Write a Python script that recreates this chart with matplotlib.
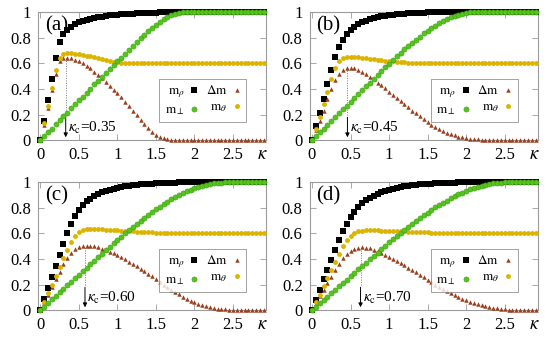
import numpy as np
import matplotlib.pyplot as plt

plt.rcParams['font.family'] = 'Liberation Serif'
plt.rcParams['mathtext.fontset'] = 'stix'

# kappa grid, step 0.05 from 0 to 2.9
kappa = np.arange(59) * 0.05

panel_labels = ['(a)', '(b)', '(c)', '(d)']
kappa_c_text = ['0.35', '0.45', '0.60', '0.70']
# where the arrow / dotted guide sits in each panel
arrow_x = [0.33, 0.46, 0.58, 0.63]

# ---- panel (a)
m_rho_a = [0.0, 0.15, 0.31, 0.48, 0.64, 0.77, 0.83, 0.86, 0.885, 0.905, 0.92, 0.93, 0.94, 0.95,
           0.955, 0.96, 0.965, 0.97, 0.975, 0.978, 0.98, 0.983, 0.986, 0.988, 0.99, 0.992, 0.993,
           0.994, 0.995, 0.996, 0.997, 0.998, 0.998, 0.999, 0.999] + [1.0] * 24
m_perp_a = [0.0, 0.03, 0.06, 0.09, 0.125, 0.155, 0.185, 0.215, 0.25, 0.28, 0.31, 0.34, 0.37, 0.40,
            0.435, 0.465, 0.495, 0.525, 0.555, 0.585, 0.615, 0.645, 0.675, 0.705, 0.735, 0.765,
            0.795, 0.825, 0.85, 0.875, 0.90, 0.925, 0.945, 0.963, 0.977, 0.987, 0.994, 0.998] + [1.0] * 21
dm_a = [0.0, 0.12, 0.25, 0.39, 0.515, 0.615, 0.645, 0.645, 0.64, 0.63, 0.615, 0.60, 0.58, 0.56,
        0.535, 0.51, 0.485, 0.455, 0.425, 0.395, 0.365, 0.335, 0.30, 0.265, 0.23, 0.195, 0.16,
        0.125, 0.095, 0.066, 0.043, 0.026, 0.014, 0.007, 0.003, 0.001] + [0.0] * 23
m_theta_a = [0.0, 0.13, 0.27, 0.41, 0.55, 0.645, 0.675, 0.68, 0.68, 0.675, 0.67, 0.665, 0.66, 0.655,
             0.648, 0.64, 0.633, 0.626, 0.619, 0.613, 0.608, 0.605, 0.603, 0.601, 0.6] + [0.6] * 34

# ---- panel (b)
m_rho_b = [0.0, 0.11, 0.21, 0.32, 0.44, 0.55, 0.65, 0.73, 0.785, 0.83, 0.86, 0.885, 0.905, 0.92,
           0.935, 0.945, 0.955, 0.962, 0.968, 0.974, 0.978, 0.982, 0.985, 0.988, 0.99, 0.992,
           0.994, 0.995, 0.996, 0.997, 0.998, 0.998, 0.999, 0.999] + [1.0] * 25
m_perp_b = [0.0, 0.03, 0.06, 0.09, 0.12, 0.15, 0.18, 0.21, 0.24, 0.27, 0.30, 0.33, 0.36, 0.39, 0.42,
            0.45, 0.48, 0.51, 0.54, 0.57, 0.595, 0.625, 0.655, 0.68, 0.71, 0.735, 0.76, 0.785, 0.81,
            0.835, 0.855, 0.875, 0.895, 0.915, 0.93, 0.945, 0.96, 0.972, 0.982, 0.99, 0.995, 0.998] + [1.0] * 17
dm_b = [0.0, 0.08, 0.15, 0.23, 0.32, 0.40, 0.47, 0.52, 0.55, 0.565, 0.565, 0.56, 0.545, 0.53, 0.515,
        0.495, 0.475, 0.45, 0.43, 0.405, 0.38, 0.355, 0.33, 0.305, 0.28, 0.255, 0.23, 0.21, 0.187,
        0.165, 0.14, 0.12, 0.10, 0.085, 0.07, 0.057, 0.045, 0.036, 0.028, 0.021, 0.016, 0.011,
        0.008, 0.005, 0.003, 0.002, 0.001] + [0.0] * 12
m_theta_b = [0.0, 0.09, 0.18, 0.28, 0.38, 0.48, 0.56, 0.615, 0.64, 0.65, 0.652, 0.65, 0.648, 0.645,
             0.641, 0.637, 0.633, 0.629, 0.625, 0.621, 0.618, 0.615, 0.612, 0.61, 0.607, 0.605,
             0.604, 0.603, 0.602, 0.601] + [0.6] * 29

# ---- panel (c)
m_rho_c = [0.0, 0.085, 0.17, 0.26, 0.345, 0.43, 0.52, 0.60, 0.675, 0.735, 0.785, 0.82, 0.85, 0.87,
           0.89, 0.905, 0.92, 0.93, 0.94, 0.948, 0.955, 0.962, 0.967, 0.972, 0.976, 0.98, 0.983,
           0.986, 0.988, 0.99, 0.992, 0.993, 0.994, 0.995, 0.996, 0.997, 0.998, 0.998, 0.999, 0.999] + [1.0] * 19
m_perp_c = [0.0, 0.028, 0.055, 0.083, 0.11, 0.138, 0.165, 0.193, 0.22, 0.248, 0.275, 0.303, 0.33,
            0.358, 0.385, 0.413, 0.44, 0.467, 0.494, 0.521, 0.548, 0.574, 0.6, 0.626, 0.651, 0.676,
            0.7, 0.724, 0.747, 0.769, 0.79, 0.81, 0.83, 0.849, 0.867, 0.884, 0.9, 0.915, 0.929,
            0.942, 0.954, 0.964, 0.973, 0.981, 0.987, 0.992, 0.995, 0.997, 0.999] + [1.0] * 10
dm_c = [0.0, 0.06, 0.12, 0.18, 0.24, 0.30, 0.36, 0.41, 0.45, 0.48, 0.495, 0.503, 0.505, 0.503, 0.498,
        0.49, 0.48, 0.47, 0.458, 0.445, 0.43, 0.415, 0.398, 0.38, 0.362, 0.343, 0.324, 0.304,
        0.284, 0.263, 0.242, 0.221, 0.2, 0.18, 0.16, 0.14, 0.122, 0.104, 0.088, 0.073, 0.06,
        0.048, 0.038, 0.029, 0.022, 0.016, 0.011, 0.008, 0.005, 0.003, 0.002, 0.001] + [0.0] * 7
m_theta_c = [0.0, 0.065, 0.13, 0.2, 0.27, 0.34, 0.41, 0.47, 0.53, 0.58, 0.61, 0.625, 0.632, 0.635,
             0.635, 0.634, 0.632, 0.63, 0.628, 0.626, 0.624, 0.622, 0.62, 0.618, 0.616, 0.614,
             0.612, 0.61, 0.608, 0.607, 0.606, 0.605, 0.604, 0.603, 0.602, 0.601, 0.601, 0.6] + [0.6] * 21

# ---- panel (d)
m_rho_d = [0.0, 0.08, 0.16, 0.24, 0.315, 0.39, 0.47, 0.545, 0.615, 0.675, 0.725, 0.77, 0.805, 0.835,
           0.86, 0.88, 0.895, 0.91, 0.922, 0.933, 0.942, 0.95, 0.957, 0.963, 0.968, 0.973, 0.977,
           0.98, 0.983, 0.986, 0.988, 0.99, 0.992, 0.993, 0.994, 0.995, 0.996, 0.997, 0.998, 0.998,
           0.999, 0.999] + [1.0] * 17
m_perp_d = [0.0, 0.027, 0.053, 0.08, 0.106, 0.133, 0.159, 0.186, 0.212, 0.239, 0.265, 0.292, 0.318,
            0.345, 0.371, 0.398, 0.424, 0.45, 0.477, 0.503, 0.529, 0.554, 0.579, 0.604, 0.628,
            0.652, 0.675, 0.698, 0.72, 0.742, 0.763, 0.783, 0.803, 0.822, 0.84, 0.857, 0.874, 0.89,
            0.905, 0.919, 0.932, 0.944, 0.955, 0.965, 0.974, 0.981, 0.987, 0.992, 0.995, 0.997, 0.999] + [1.0] * 8
dm_d = [0.0, 0.055, 0.107, 0.16, 0.21, 0.26, 0.31, 0.36, 0.405, 0.44, 0.465, 0.48, 0.488, 0.49, 0.488,
        0.482, 0.472, 0.46, 0.447, 0.433, 0.418, 0.402, 0.385, 0.368, 0.35, 0.332, 0.313, 0.294,
        0.275, 0.256, 0.237, 0.218, 0.2, 0.182, 0.165, 0.148, 0.132, 0.117, 0.103, 0.09, 0.077,
        0.066, 0.055, 0.045, 0.037, 0.029, 0.023, 0.017, 0.013, 0.009, 0.006, 0.004, 0.002, 0.001] + [0.0] * 5
m_theta_d = [0.0, 0.06, 0.12, 0.185, 0.25, 0.315, 0.38, 0.44, 0.5, 0.545, 0.58, 0.603, 0.615, 0.621,
             0.624, 0.625, 0.624, 0.623, 0.622, 0.621, 0.62, 0.619, 0.618, 0.617, 0.616, 0.614,
             0.612, 0.611, 0.61, 0.608, 0.607, 0.606, 0.605, 0.604, 0.603, 0.602, 0.602, 0.601,
             0.601, 0.6] + [0.6] * 19

panels = [
    (m_rho_a, dm_a, m_perp_a, m_theta_a),
    (m_rho_b, dm_b, m_perp_b, m_theta_b),
    (m_rho_c, dm_c, m_perp_c, m_theta_c),
    (m_rho_d, dm_d, m_perp_d, m_theta_d),
]

# axes rectangles [left, bottom, width, height] in figure fraction
rects = [
    [0.069, 0.588, 0.415, 0.376],
    [0.563, 0.588, 0.415, 0.376],
    [0.069, 0.088, 0.415, 0.376],
    [0.563, 0.088, 0.415, 0.376],
]

c_rho = '#000000'
c_dm = '#9a3f1c'
c_perp = '#55c41e'
c_theta = '#dcb400'
frame_grey = '#9a9a9a'

fig = plt.figure(figsize=(5.5, 3.4), dpi=100)

for k in range(4):
    m_rho, dm, m_perp, m_theta = panels[k]
    ax = fig.add_axes(rects[k])

    ax.plot(kappa, m_rho, 's', color=c_rho, ms=3.9, mew=0, clip_on=False, zorder=3, label=r'$\mathrm{m}_\rho$')
    ax.plot(kappa, m_perp, 'o', color=c_perp, mec='#3d9e14', ms=3.7, mew=0.4, clip_on=False, zorder=4,
            label=r'$\mathrm{m}_\perp$')
    ax.plot(kappa, dm, '^', color=c_dm, ms=3.2, mew=0, clip_on=False, zorder=3, label=r'$\Delta\mathrm{m}$')
    ax.plot(kappa, m_theta, 'o', color=c_theta, ms=3.5, mew=0, clip_on=False, zorder=3,
            label=r'$\mathrm{m}_\theta$')

    # critical kappa: dotted guide + arrow with label
    xa = arrow_x[k]
    ax.plot([xa, xa], [0.2, max(dm)], ls=(0, (1, 1.5)), color='#777777', lw=0.7, zorder=2)
    ax.annotate('', xy=(xa, 0.0), xytext=(xa, 0.2),
                arrowprops=dict(arrowstyle='-|>', color='black', lw=0.7, mutation_scale=6))
    ax.text(xa + 0.03, 0.03, r'$\kappa_{\mathrm{c}}$=' + kappa_c_text[k], fontsize=11,
            ha='left', va='bottom')

    ax.text(0.03, 0.97, panel_labels[k], transform=ax.transAxes, fontsize=15, ha='left', va='top')

    ax.set_xlim(-0.03, 2.93)
    ax.set_ylim(0, 1)
    ax.set_xticks([0, 0.5, 1, 1.5, 2, 2.5])
    ax.set_xticklabels(['0', '0.5', '1', '1.5', '2', '2.5'])
    ax.set_yticks([0, 0.2, 0.4, 0.6, 0.8, 1])
    ax.set_yticklabels(['0', '0.2', '0.4', '0.6', '0.8', '1'])
    ax.text(2.88, -0.05, r'$\kappa$', fontsize=13.5, ha='center', va='top')

    ax.tick_params(direction='in', top=True, right=True, length=4, width=0.6, color=frame_grey,
                   labelsize=12, pad=5)
    for s in ax.spines.values():
        s.set_color(frame_grey)
        s.set_linewidth(0.8)

    leg = ax.legend(ncol=2, loc='upper right', bbox_to_anchor=(0.94, 0.53), markerfirst=False,
                    fontsize=9.5, frameon=True, fancybox=False, handlelength=0.6, handletextpad=0.4,
                    columnspacing=0.6, borderpad=0.4, labelspacing=0.3)
    leg.get_frame().set_edgecolor('#777777')
    leg.get_frame().set_linewidth(0.6)

plt.savefig('out.png', dpi=100)
